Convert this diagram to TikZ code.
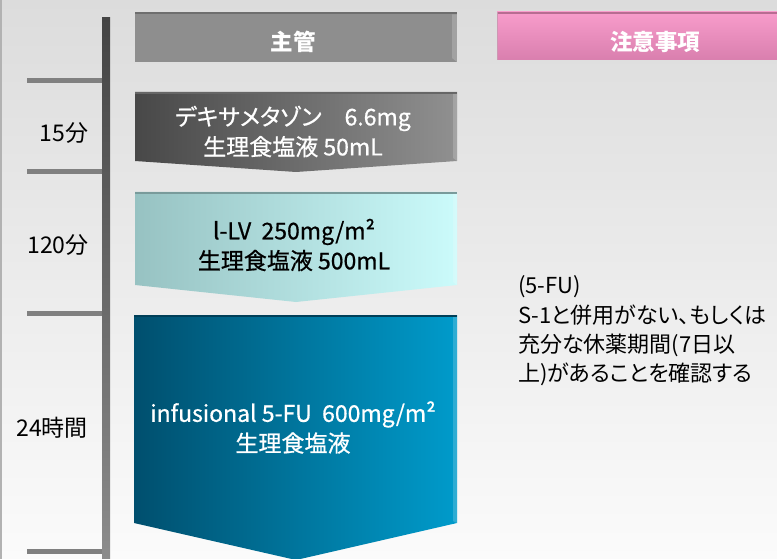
\documentclass[tikz,border=0pt]{standalone}
\usepackage{fontspec}
\setmainfont{Noto Sans CJK JP}[RawFeature=+palt]
\newfontfamily\jmed{Noto Sans CJK JP}[RawFeature=+palt, FakeBold=0.7]
\definecolor{bgtop}{HTML}{DCDCDC}
\definecolor{bgbot}{HTML}{FBFBFB}
\definecolor{bartop}{HTML}{444444}
\definecolor{barbot}{HTML}{8C8C8C}
\definecolor{tickc}{HTML}{808080}
\definecolor{hgray}{HTML}{8E8E8E}
\definecolor{hgrayd}{HTML}{6E6E6E}
\definecolor{pinktop}{HTML}{F89CCB}
\definecolor{pinkbot}{HTML}{D97FAE}
\definecolor{pinkd}{HTML}{B86C92}
\definecolor{dexL}{HTML}{484848}
\definecolor{dexR}{HTML}{909090}
\definecolor{lvL}{HTML}{97C2C2}
\definecolor{lvR}{HTML}{CBFBFB}
\definecolor{fuL}{HTML}{004F6E}
\definecolor{fuR}{HTML}{009BCB}
\tikzset{
  tickline/.style={draw=tickc, line width=5pt},
  boxtext/.style={font=\jmed\fontsize{23}{30}\selectfont, align=center, inner sep=0pt},
  headtext/.style={font=\bfseries\fontsize{22.5}{30}\selectfont, inner sep=0pt, text=white},
  timelabel/.style={font=\fontsize{23}{29}\selectfont, text=black, inner sep=0pt},
  notetext/.style={font=\fontsize{22}{29.3}\selectfont, align=left, inner sep=0pt, text=black},
  bevel/.style={fill=white, fill opacity=0.18},
}
\begin{document}
\begin{tikzpicture}[x=1pt,y=-1pt]
\useasboundingbox (0,0) rectangle (777,559);
% background
\shade[top color=bgtop, bottom color=bgbot] (0,0) rectangle (777,559);
\draw[color=gray!60, line width=1.5pt] (0.75,0) -- (0.75,559);
% timeline
\shade[top color=bartop, bottom color=barbot] (102,18) rectangle (110,559);
\coordinate (t1a) at (27,81);  \coordinate (t1b) at (102,81);
\coordinate (t2a) at (27,172); \coordinate (t2b) at (102,172);
\coordinate (t3a) at (27,313); \coordinate (t3b) at (102,313);
\coordinate (t4a) at (27,551); \coordinate (t4b) at (102,551);
\draw[tickline] (t1a) -- (t1b);
\draw[tickline] (t2a) -- (t2b);
\draw[tickline] (t3a) -- (t3b);
\draw[tickline] (t4a) -- (t4b);
\node[timelabel] (l15) at (64,133) {15分};
\node[timelabel] (l120) at (58,245) {120分};
\node[timelabel] (l24) at (52,428) {24時間};
% header boxes
\fill[hgray] (135,12) rectangle (457,62);
\fill[hgrayd] (135,12) rectangle (457,14.5);
\fill[bevel] (452,14.5) -- (457,14.5) -- (457,62) -- (452,58) -- cycle;
\node[headtext] (hmain) at (293,42) {主管};
\shade[top color=pinktop, bottom color=pinkbot] (497,12) rectangle (777,60);
\fill[pinkd] (497,12) rectangle (777,14.5);
\draw[pinkd!70, line width=0.8pt] (497.4,12) -- (497.4,60);
\node[headtext] (hnote) at (655,42) {注意事項};
% dexamethasone arrow
\shade[left color=dexL, right color=dexR] (135,92) -- (457,92) -- (457,161) -- (296,172) -- (135,161) -- cycle;
\fill[black!60] (135,92) rectangle (457,94);
\fill[bevel] (453,94) -- (457,94) -- (457,161) -- (453,158) -- cycle;
\node[boxtext, text=white] (dex) at (293,131.5) {デキサメタゾン\quad 6.6mg\\生理食塩液 50mL};
% l-LV arrow
\shade[left color=lvL, right color=lvR] (135,192) -- (457,192) -- (457,285) -- (296,302) -- (135,285) -- cycle;
\fill[lvL!80!black] (135,192) rectangle (457,194);
\fill[bevel] (453,194) -- (457,194) -- (457,285) -- (453,282) -- cycle;
\node[boxtext, text=black] (lv) at (294,245) {l-LV\ \ 250mg/m²\\生理食塩液 500mL};
% 5-FU arrow
\shade[left color=fuL, right color=fuR] (134,315) -- (457,315) -- (457,523) -- (296,560) -- (134,523) -- cycle;
\fill[fuL!80!black] (134,315) rectangle (457,317);
\fill[bevel] (453,317) -- (457,317) -- (457,523) -- (453,521) -- cycle;
\node[boxtext, text=white] (fu) at (293,427.5) {infusional 5-FU\ \ 600mg/m²\\生理食塩液};
% notes
\node[notetext, anchor=west] (notes) at (518,331) {(5-FU)\\S-1と併用がない、もしくは\\充分な休薬期間(7日以\\上)があることを確認する};
\end{tikzpicture}
\end{document}
